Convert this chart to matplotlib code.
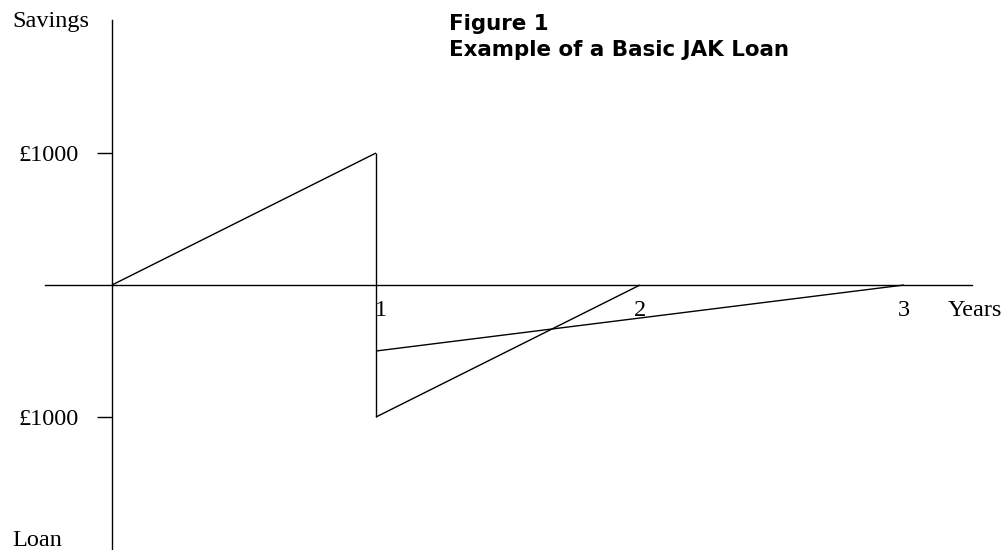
"""
Figure 1: Example of a basic JAK loan
Savings build up for a year, then a loan is paid back over one or two years.
"""
import matplotlib.pyplot as plt
import matplotlib.transforms as mtransforms

# saving phase and the jump to the loan
save_years = [0, 1]
save_amount = [0, 1000]
jump_years = [1, 1]
jump_amount = [1000, -1000]

# loan repaid within one year, and a half-size loan over two years
loan1_years = [1, 2]
loan1_amount = [-1000, 0]
loan2_years = [1, 3]
loan2_amount = [-500, 0]

x_ticks = [1, 2, 3]
x_labels = ["1", "2", "3"]
y_ticks = [1000, -1000]
y_labels = ["£1000", "£1000"]

serif = "Liberation Serif"
fs = 17.5
W, H, DPI = 1008, 550, 100

fig = plt.figure(figsize=(W / DPI, H / DPI), dpi=DPI)
ax = fig.add_axes([0, 0, 1, 1])

# pixel layout: x=0 at 112px, 264px per year; y=0 at 285px, 132px per 1000
px_x, px_y = 264.0, 132.0 / 1000
ax.set_xlim(-112 / px_x, (W - 112) / px_x)
ax.set_ylim(-(H - 285) / px_y, 285 / px_y)

for xs, ys in [(save_years, save_amount), (jump_years, jump_amount),
               (loan1_years, loan1_amount), (loan2_years, loan2_amount)]:
    ax.plot(xs, ys, color="black", lw=1.0, solid_capstyle="butt")

for s in ["top", "right"]:
    ax.spines[s].set_visible(False)
ax.spines["left"].set_position(("data", 0))
ax.spines["bottom"].set_position(("data", 0))
ax.spines["left"].set_bounds(-(H - 285) / px_y, (285 - 20) / px_y)
ax.spines["bottom"].set_bounds((45 - 112) / px_x, (972 - 112) / px_x)
for s in ["left", "bottom"]:
    ax.spines[s].set_linewidth(1.0)

ax.set_yticks(y_ticks)
ax.set_yticklabels(y_labels, fontfamily=serif, fontsize=fs)
ax.tick_params(axis="y", direction="out", length=11, width=1.0, pad=13)
ax.set_xticks(x_ticks)
ax.set_xticklabels(x_labels, fontfamily=serif, fontsize=fs)
ax.tick_params(axis="x", length=0, pad=11)
# the "1" sits just right of the drop line
first = ax.get_xticklabels()[0]
first.set_transform(first.get_transform()
                    + mtransforms.ScaledTranslation(5 / DPI, 0, fig.dpi_scale_trans))

ax.text(12 / W, 1 - 22 / H, "Savings", transform=fig.transFigure,
        fontfamily=serif, fontsize=fs, ha="left", va="center")
ax.text(12 / W, 1 - 541 / H, "Loan", transform=fig.transFigure,
        fontfamily=serif, fontsize=fs, ha="left", va="center")
ax.text(948 / W, 1 - 310 / H, "Years", transform=fig.transFigure,
        fontfamily=serif, fontsize=fs, ha="left", va="center")

ax.text(449 / W, 1 - 14 / H, "Figure 1\nExample of a Basic JAK Loan",
        transform=fig.transFigure, fontfamily="DejaVu Sans", fontsize=15.4,
        fontweight="bold", ha="left", va="top", linespacing=1.4)

fig.savefig("out.png", dpi=DPI)
